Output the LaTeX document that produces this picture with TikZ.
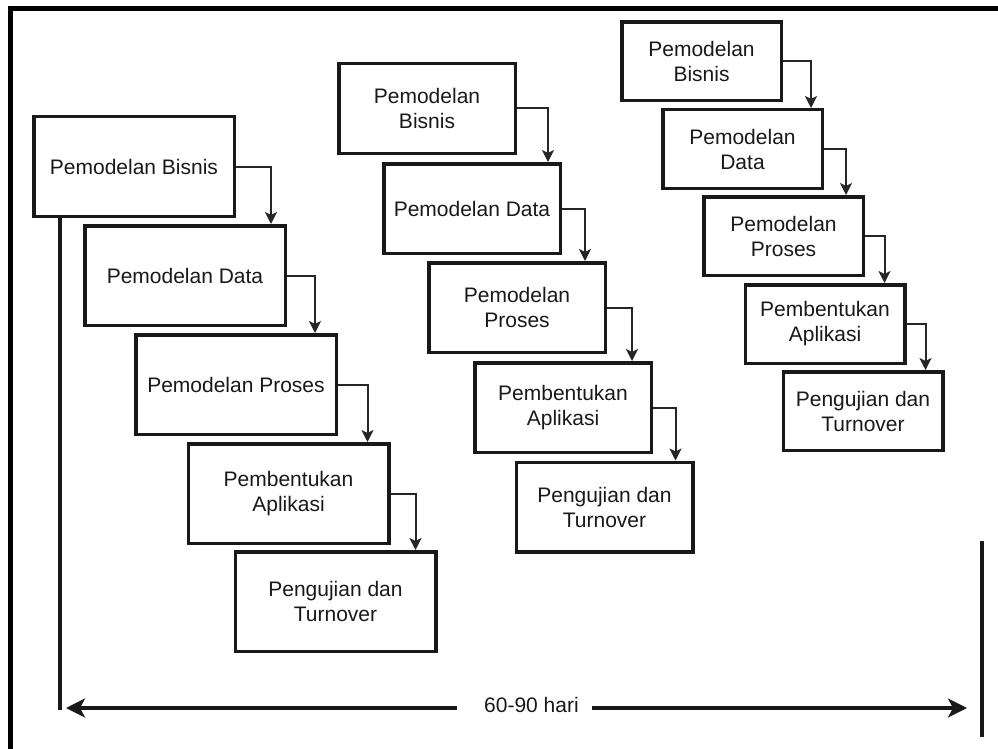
\documentclass[tikz,border=0pt]{standalone}
\usepackage{fontspec}
\setmainfont{Liberation Sans}
\usetikzlibrary{arrows.meta}
\begin{document}
\begin{tikzpicture}[x=1pt,y=-1pt,
  stage/.style={draw=black!90, line width=3.5pt, fill=white, inner sep=0pt,
    align=center, font=\fontsize{21}{25}\selectfont, text=black!90},
  bigbox/.style={stage, minimum width=200.5pt, minimum height=99.5pt},
  midbox/.style={stage, minimum width=176.5pt, minimum height=89.5pt},
  smallbox/.style={stage, minimum width=159.5pt, minimum height=78.5pt},
  flow/.style={draw=black!85, line width=2pt,
    -{Stealth[length=12pt,width=12pt,inset=3pt]}},
  span/.style={draw=black!90, line width=3.2pt,
    -{Stealth[length=19pt,width=19pt,inset=5pt]}},
  bar/.style={draw=black!90, line width=3.2pt},
  spanlabel/.style={font=\fontsize{21}{25}\selectfont, text=black!90, inner sep=0pt},
]
\useasboundingbox (0,0) rectangle (998,749);

% outer frame (top and left edges)
\draw[line width=5pt] (10,749) -- (10,8.5) -- (998,8.5);

% first iteration
\node[bigbox] (a1) at (134,166.5) {Pemodelan Bisnis};
\node[bigbox] (a2) at (185,275.5) {Pemodelan Data};
\node[bigbox] (a3) at (236,384.5) {Pemodelan Proses};
\node[bigbox] (a4) at (288.5,493.5) {Pembentukan\\Aplikasi};
\node[bigbox] (a5) at (335.5,601.5) {Pengujian dan\\Turnover};

\draw[flow] (a1.east) -| ([xshift=-16pt]a2.north east);
\draw[flow] (a2.east) -| ([xshift=-23pt]a3.north east);
\draw[flow] (a3.east) -| ([xshift=-23pt]a4.north east);
\draw[flow] (a4.east) -| ([xshift=-22pt]a5.north east);

% second iteration
\node[midbox] (b1) at (427,108.5) {Pemodelan\\Bisnis};
\node[midbox] (b2) at (472,208.5) {Pemodelan Data};
\node[midbox] (b3) at (517,307.5) {Pemodelan\\Proses};
\node[midbox] (b4) at (563,407.5) {Pembentukan\\Aplikasi};
\node[midbox] (b5) at (604.5,507) {Pengujian dan\\Turnover};

\draw[flow] (b1.east) -| ([xshift=-14pt]b2.north east);
\draw[flow] (b2.east) -| ([xshift=-22pt]b3.north east);
\draw[flow] (b3.east) -| ([xshift=-21pt]b4.north east);
\draw[flow] (b4.east) -| ([xshift=-19pt]b5.north east);

% third iteration
\node[smallbox] (c1) at (701.5,61.5) {Pemodelan\\Bisnis};
\node[smallbox] (c2) at (742.5,149) {Pemodelan\\Data};
\node[smallbox] (c3) at (783.5,236) {Pemodelan\\Proses};
\node[smallbox] (c4) at (825,324) {Pembentukan\\Aplikasi};
\node[smallbox] (c5) at (863,411) {Pengujian dan\\Turnover};

\draw[flow] (c1.east) -| ([xshift=-13pt]c2.north east);
\draw[flow] (c2.east) -| ([xshift=-19pt]c3.north east);
\draw[flow] (c3.east) -| ([xshift=-22pt]c4.north east);
\draw[flow] (c4.east) -| ([xshift=-19pt]c5.north east);

% time span
\coordinate (lvbot) at (60,710);
\coordinate (rvtop) at (982,541);
\coordinate (rvbot) at (982,737);
\draw[bar] ([xshift=28pt]a1.south west) -- (lvbot);
\draw[bar] (rvtop) -- (rvbot);

\node[spanlabel] (days) at (531.5,705) {60-90 hari};
\coordinate (lstart) at (457,708);
\coordinate (ltip) at (66,708);
\coordinate (rstart) at (592,708);
\coordinate (rtip) at (967,708);
\draw[span] (lstart) -- (ltip);
\draw[span] (rstart) -- (rtip);
\end{tikzpicture}
\end{document}
